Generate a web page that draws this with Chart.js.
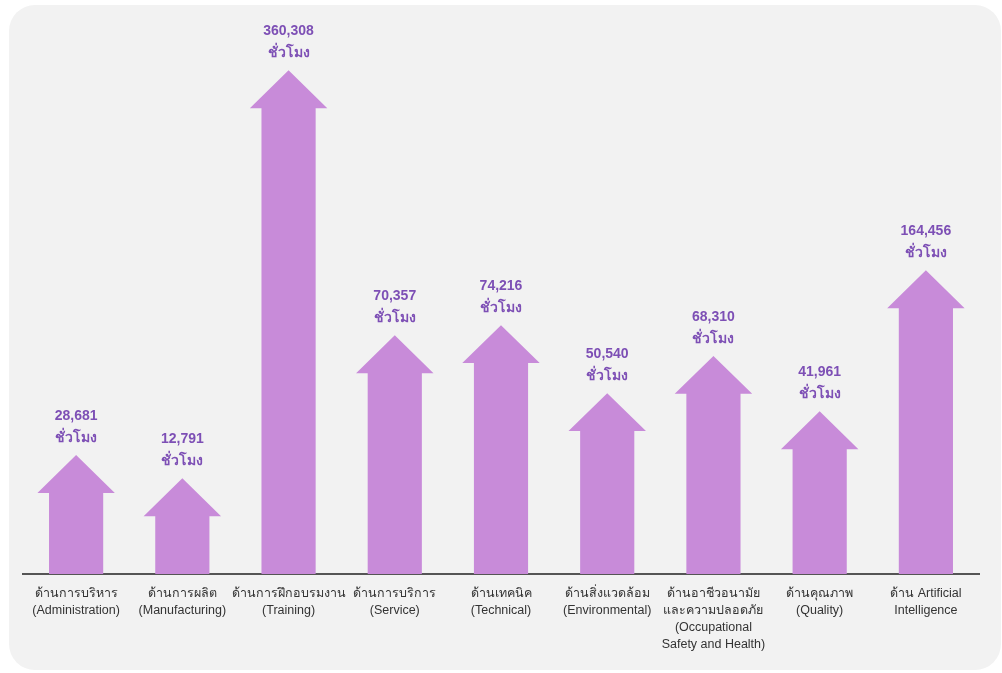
<!DOCTYPE html>
<html>
<head>
<meta charset="utf-8">
<script src="https://cdn.jsdelivr.net/npm/chart.js@4"></script>
<style>
    html, body { margin: 0; padding: 0; background: #ffffff; }
    .panel {
        position: absolute;
        left: 9px; top: 5px;
        width: 992px; height: 665px;
        background: #f2f2f2;
        border-radius: 26px;
    }
    #chart { position: absolute; left: 0; top: 0; }
</style>
</head>
<body>
<div class="panel"></div>
<canvas id="chart" width="1002" height="673"></canvas>
<script>
// categories (Thai + English)
const categories = [
    ['ด้านการบริหาร', '(Administration)'],
    ['ด้านการผลิต', '(Manufacturing)'],
    ['ด้านการฝึกอบรมงาน', '(Training)'],
    ['ด้านการบริการ', '(Service)'],
    ['ด้านเทคนิค', '(Technical)'],
    ['ด้านสิ่งแวดล้อม', '(Environmental)'],
    ['ด้านอาชีวอนามัย', 'และความปลอดภัย', '(Occupational', 'Safety and Health)'],
    ['ด้านคุณภาพ', '(Quality)'],
    ['ด้าน Artificial', 'Intelligence']
];

// training hours shown above each arrow
const hours = [28681, 12791, 360308, 70357, 74216, 50540, 68310, 41961, 164456];

// arrow heights as drawn in the picture (not to scale with hours; Training = 100)
const arrowLevels = [23.6, 19.0, 100, 47.4, 49.4, 35.9, 43.3, 32.3, 60.3];

const unitLabel = 'ชั่วโมง';

const FONT = "'Liberation Sans', Arial, 'Noto Sans', sans-serif";

const arrowPlugin = {
    id: 'arrows',
    afterDatasetsDraw(chart) {
        const ctx = chart.ctx;
        const meta = chart.getDatasetMeta(0);
        ctx.save();
        meta.data.forEach((bar, i) => {
            const { x, y, base, width } = bar.getProps(['x', 'y', 'base', 'width'], true);
            const headW = width * 1.43;
            const headH = width * 0.7;
            ctx.beginPath();
            ctx.moveTo(x - width / 2, base);
            ctx.lineTo(x - width / 2, y + headH);
            ctx.lineTo(x - headW / 2, y + headH);
            ctx.lineTo(x, y);
            ctx.lineTo(x + headW / 2, y + headH);
            ctx.lineTo(x + width / 2, y + headH);
            ctx.lineTo(x + width / 2, base);
            ctx.closePath();
            ctx.fillStyle = '#c88bd9';
            ctx.fill();

            ctx.fillStyle = '#7d4fb5';
            ctx.font = 'bold 14px ' + FONT;
            ctx.textAlign = 'center';
            ctx.textBaseline = 'middle';
            ctx.fillText(hours[i].toLocaleString('en-US'), x, y - 39);
            ctx.fillText(unitLabel, x, y - 17);
        });
        ctx.restore();
    }
};

const ctx = document.getElementById('chart').getContext('2d');
const hoursChart = new Chart(ctx, {
    type: 'bar',
    data: {
        labels: categories,
        datasets: [{
            label: 'Training hours',
            data: arrowLevels,
            backgroundColor: 'rgba(0,0,0,0)',
            categoryPercentage: 1,
            barPercentage: 0.51
        }]
    },
    options: {
        responsive: false,
        animation: false,
        layout: { padding: { top: 35, left: 23, right: 23, bottom: 0 } },
        plugins: {
            legend: { display: false },
            tooltip: { enabled: false }
        },
        scales: {
            x: {
                grid: { display: false },
                border: { color: '#555555', width: 2 },
                ticks: {
                    color: '#333333',
                    padding: 3,
                    maxRotation: 0,
                    autoSkip: false,
                    font: { family: FONT, size: 12.5, lineHeight: 1.36 }
                },
                afterFit(scale) { scale.height = 99; }
            },
            y: {
                display: false,
                min: 0,
                max: 107
            }
        }
    },
    plugins: [arrowPlugin]
});
</script>
</body>
</html>
